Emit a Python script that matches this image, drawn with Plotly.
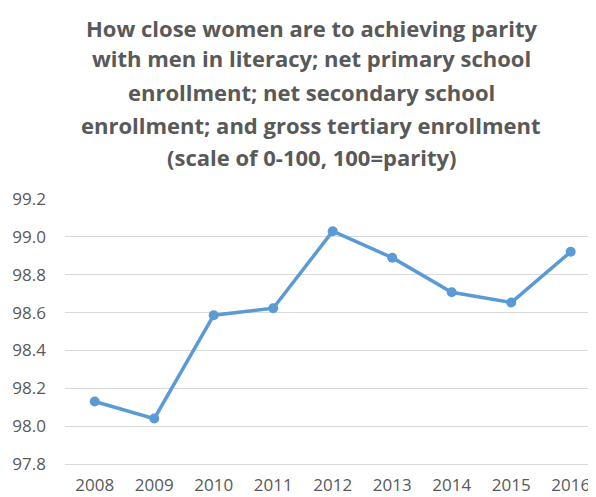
import plotly.graph_objects as go

years = ["2008", "2009", "2010", "2011", "2012", "2013", "2014", "2015", "2016"]
values = [98.13, 98.04, 98.586, 98.623, 99.03, 98.89, 98.707, 98.653, 98.921]
y_ticks = [97.8, 98.0, 98.2, 98.4, 98.6, 98.8, 99.0, 99.2]

title_lines = [
    "How close women are to achieving parity",
    "with men in literacy; net primary school",
    "enrollment; net secondary school",
    "enrollment; and gross tertiary enrollment",
    "(scale of 0-100, 100=parity)",
]

W, H = 596, 497
OFF = 8  # browser body margin
L, T = 65 - OFF, 199.3 - OFF
PH = 265.0
B = H - T - PH
PW = W - L

fig = go.Figure()
fig.add_trace(go.Scatter(
    x=years, y=values, mode="lines+markers",
    line=dict(color="#5b9bd5", width=3.5),
    marker=dict(color="#5b9bd5", size=10, symbol="circle"),
    showlegend=False,
))

title_y = [28, 58, 92, 125, 157]
for txt, yp in zip(title_lines, title_y):
    px_x = 311 - OFF
    px_y = yp - OFF
    fig.add_annotation(
        text="<b>" + txt + "</b>", xref="paper", yref="paper",
        x=(px_x - L) / PW, y=1 - (px_y - T) / PH,
        xanchor="center", yanchor="middle", showarrow=False,
        font=dict(family="Open Sans", size=22, color="#595959"),
    )

fig.update_layout(
    width=W, height=H,
    margin=dict(l=L, r=0, t=T, b=B),
    paper_bgcolor="white", plot_bgcolor="white",
    font=dict(family="Open Sans", color="#595959"),
    xaxis=dict(
        type="category", range=[-0.5, 8.56], showgrid=False,
        showline=True, linecolor="#d9d9d9", linewidth=1,
        ticks="", tickfont=dict(size=17, color="#595959"),
        ticklabelstandoff=6,
    ),
    yaxis=dict(
        range=[97.8, 99.2], tickvals=y_ticks,
        ticktext=[f"{v:.1f}" for v in y_ticks],
        showgrid=True, gridcolor="#d9d9d9", gridwidth=1,
        zeroline=False, showline=False, ticks="",
        tickfont=dict(size=17, color="#595959"),
        ticklabelstandoff=18,
    ),
)

fig.write_html("out.html")
